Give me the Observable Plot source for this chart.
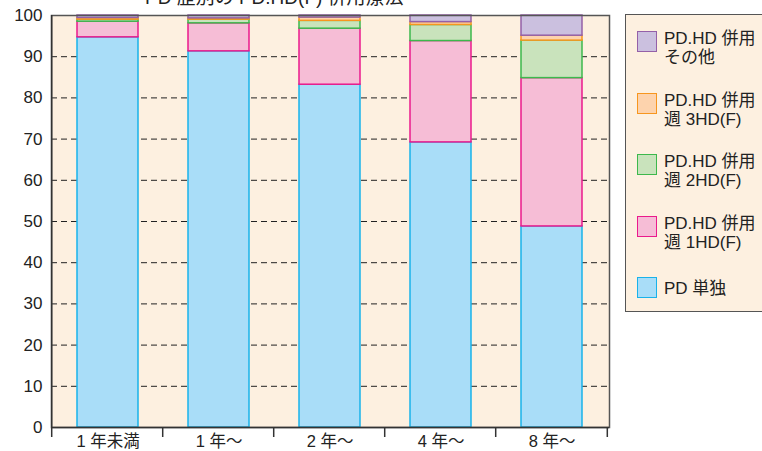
<!DOCTYPE html>
<html><head><meta charset="utf-8">
<script src="https://cdn.jsdelivr.net/npm/d3@7"></script>
<script src="https://cdn.jsdelivr.net/npm/@observablehq/plot@0.6"></script>
<style>
html,body{margin:0;padding:0;background:#fff;overflow:hidden;width:762px;height:451px;}
body{position:relative;font-family:"Liberation Sans","Noto Sans CJK JP",sans-serif;}
#title{position:absolute;left:145px;top:-18px;font-size:19px;color:#222;white-space:nowrap;}
#legend{position:absolute;left:625px;top:14px;width:150px;height:298px;background:#fdf0e0;border:1.5px solid #555;box-sizing:border-box;}
.item{position:absolute;left:11px;}
.sw{position:absolute;left:0;top:0;width:18px;height:19px;border:1.5px solid;}
.lab{position:absolute;left:27px;top:-2px;font-size:17px;line-height:19px;color:#222;white-space:nowrap;}
</style></head>
<body>
<div id="title">PD 歴別の PD.HD(F) 併用療法</div>
<div id="chart"></div>
<div id="legend"></div>
<script>
const categories = ["1 年未満", "1 年～", "2 年～", "4 年～", "8 年～"];
const seriesNames = ["PD 単独", "PD.HD 併用\n週 1HD(F)", "PD.HD 併用\n週 2HD(F)", "PD.HD 併用\n週 3HD(F)", "PD.HD 併用\nその他"];
const fills = ["#a9ddf8", "#f6bdd6", "#c9e3bc", "#fdd3ad", "#cbc0df"];
const strokes = ["#19b2ea", "#ea1a8c", "#3db84c", "#f7961e", "#9460a8"];
const pdOnly = [94.7, 91.3, 83.2, 69.2, 48.8];
const hd1 = [3.8, 6.8, 13.6, 24.6, 36.0];
const hd2 = [0.5, 0.9, 1.9, 3.9, 9.1];
const hd3 = [0.4, 0.3, 0.8, 0.7, 1.2];
const other = [0.6, 0.7, 0.5, 1.6, 4.9];
const yTicks = [0, 10, 20, 30, 40, 50, 60, 70, 80, 90, 100];
const gridTicks = [10, 20, 30, 40, 50, 60, 70, 80, 90];

const seriesValues = [pdOnly, hd1, hd2, hd3, other];
const data = [];
seriesValues.forEach((vals, s) => vals.forEach((v, i) => data.push({cat: categories[i], s, value: v})));

const W = 762, H = 451, ML = 51, MR = 153, MT = 15, MB = 24;
const step = (W - ML - MR) / categories.length;

const chart = Plot.plot({
  width: W, height: H,
  marginLeft: ML, marginRight: MR, marginTop: MT, marginBottom: MB,
  style: {fontFamily: '"Liberation Sans","Noto Sans CJK JP",sans-serif', fontSize: "17px", color: "#222", background: "transparent"},
  x: {domain: categories, paddingInner: 0.45, paddingOuter: 0.225, label: null},
  y: {domain: [0, 100], label: null},
  marks: [
    Plot.frame({fill: "#fdf0e0", stroke: "none"}),
    Plot.ruleY(gridTicks, {stroke: "#222", strokeWidth: 1, strokeDasharray: "6,4"}),
    Plot.barY(data, Plot.stackY({
      x: "cat", y: "value", z: "s",
      fill: d => fills[d.s], stroke: d => strokes[d.s], strokeWidth: 1.5
    })),
    Plot.frame({stroke: "#555", strokeWidth: 1.5}),
    Plot.axisX({tickSize: 0, tickPadding: 8, fontSize: 16.5}),
    Plot.axisY({ticks: yTicks, tickSize: 0, tickPadding: 9, fontSize: 17}),
    Plot.ruleY([0], {stroke: "#333", strokeWidth: 1.5})
  ]
});
document.getElementById("chart").appendChild(chart);

// x boundary tick marks below axis, placed from the band scale
const xs = chart.scale("x");
const svg = d3.select(chart);
const g = svg.append("g").attr("stroke", "#333").attr("stroke-width", 1.5);
const bounds = categories.map(c => xs.apply(c) - (step - xs.bandwidth) / 2);
bounds.push(xs.apply(categories[categories.length - 1]) + xs.bandwidth + (step - xs.bandwidth) / 2);
const y0 = chart.scale("y").apply(0);
g.append("line").attr("x1", bounds[0]).attr("x2", bounds[0]).attr("y1", chart.scale("y").apply(100)).attr("y2", y0);
bounds.forEach(b => g.append("line").attr("x1", b).attr("x2", b).attr("y1", y0).attr("y2", y0 + 10));

// legend
const legend = document.getElementById("legend");
const order = [4, 3, 2, 1, 0];
order.forEach((s, k) => {
  const it = document.createElement("div");
  it.className = "item";
  it.style.top = (16 + k * 61.5) + "px";
  const sw = document.createElement("div");
  sw.className = "sw";
  sw.style.background = fills[s];
  sw.style.borderColor = strokes[s];
  const lab = document.createElement("div");
  lab.className = "lab";
  lab.innerHTML = seriesNames[s].split("\n").join("<br>");
  if (!seriesNames[s].includes("\n")) lab.style.top = "2px";
  it.appendChild(sw); it.appendChild(lab);
  legend.appendChild(it);
});
</script>
</body></html>
